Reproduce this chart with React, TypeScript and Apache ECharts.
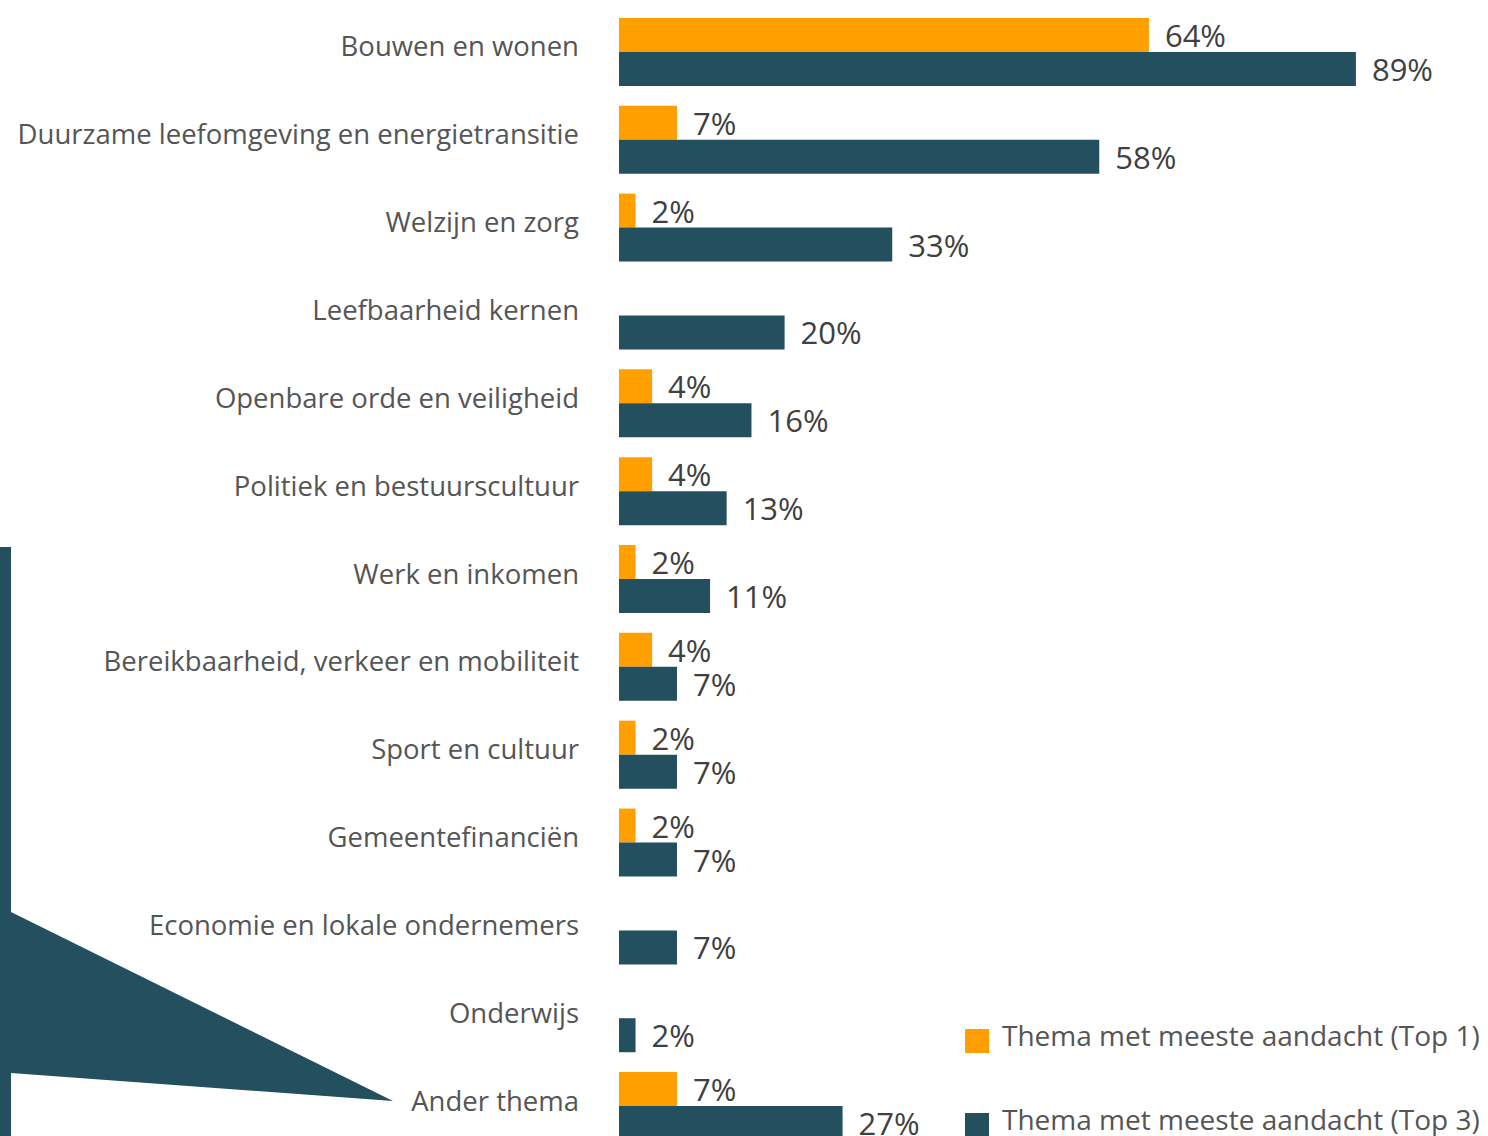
import React, { useEffect, useRef } from "react";
import * as echarts from "echarts";

const categories = [
  "Bouwen en wonen",
  "Duurzame leefomgeving en energietransitie",
  "Welzijn en zorg",
  "Leefbaarheid kernen",
  "Openbare orde en veiligheid",
  "Politiek en bestuurscultuur",
  "Werk en inkomen",
  "Bereikbaarheid, verkeer en mobiliteit",
  "Sport en cultuur",
  "Gemeentefinanciën",
  "Economie en lokale ondernemers",
  "Onderwijs",
  "Ander thema",
];
const top1 = [64, 7, 2, null, 4, 4, 2, 4, 2, 2, null, null, 7];
const top3 = [89, 58, 33, 20, 16, 13, 11, 7, 7, 7, 7, 2, 27];
const seriesNames = ["Thema met meeste aandacht (Top 1)", "Thema met meeste aandacht (Top 3)"];

const ORANGE = "#FFA000";
const TEAL = "#234F5E";
const FONT = "Open Sans";

export default function App() {
  const ref = useRef<HTMLDivElement>(null);
  useEffect(() => {
    if (!ref.current) return;
    const chart = echarts.init(ref.current, undefined, { renderer: "svg" });
    const label = {
      show: true,
      position: "right",
      distance: 16,
      fontSize: 31,
      fontFamily: FONT,
      color: "#404040",
      formatter: (p: any) => (p.value == null ? "" : p.value + "%"),
    };
    const legendText = {
      fontSize: 28,
      fontFamily: FONT,
      color: "#555555",
      rich: {
        t: { fontSize: 28, fontFamily: FONT, color: "#555555", padding: [0, 0, 12, 8] },
      },
    };
    const legendFmt = (n: string) => "{t|" + n + "}";
    chart.setOption({
      animation: false,
      textStyle: { fontFamily: FONT },
      grid: { left: 619, width: 828, top: 8, height: 1142, containLabel: false },
      xAxis: { type: "value", min: 0, max: 100, show: false },
      yAxis: {
        type: "category",
        data: categories,
        inverse: true,
        axisLine: { show: false },
        axisTick: { show: false },
        axisLabel: {
          fontSize: 27.5,
          fontFamily: FONT,
          color: "#555555",
          margin: 40,
          verticalAlign: "bottom",
          lineHeight: 12,
        },
      },
      legend: [
        {
          left: 965,
          top: 1021,
          padding: 0,
          itemWidth: 24,
          itemHeight: 24,
          icon: "rect",
          formatter: legendFmt,
          textStyle: legendText,
          data: [seriesNames[0]],
        },
        {
          left: 965,
          top: 1105,
          padding: 0,
          itemWidth: 24,
          itemHeight: 24,
          icon: "rect",
          formatter: legendFmt,
          textStyle: legendText,
          data: [seriesNames[1]],
        },
      ],
      series: [
        {
          name: seriesNames[0],
          type: "bar",
          data: top1,
          barWidth: 34,
          barGap: "0%",
          itemStyle: { color: ORANGE },
          label,
        },
        {
          name: seriesNames[1],
          type: "bar",
          data: top3,
          barWidth: 34,
          barGap: "0%",
          itemStyle: { color: TEAL },
          label,
        },
      ],
      graphic: [
        {
          type: "polygon",
          shape: {
            points: [
              [0, 547],
              [11, 547],
              [11, 912],
              [393, 1101],
              [11, 1073],
              [11, 1170],
              [0, 1170],
            ],
          },
          style: { fill: TEAL },
        },
      ],
    });
    return () => chart.dispose();
  }, []);
  return (
    <div
      ref={ref}
      style={{ position: "absolute", left: 0, top: 0, width: 1488, height: 1170 }}
    />
  );
}
